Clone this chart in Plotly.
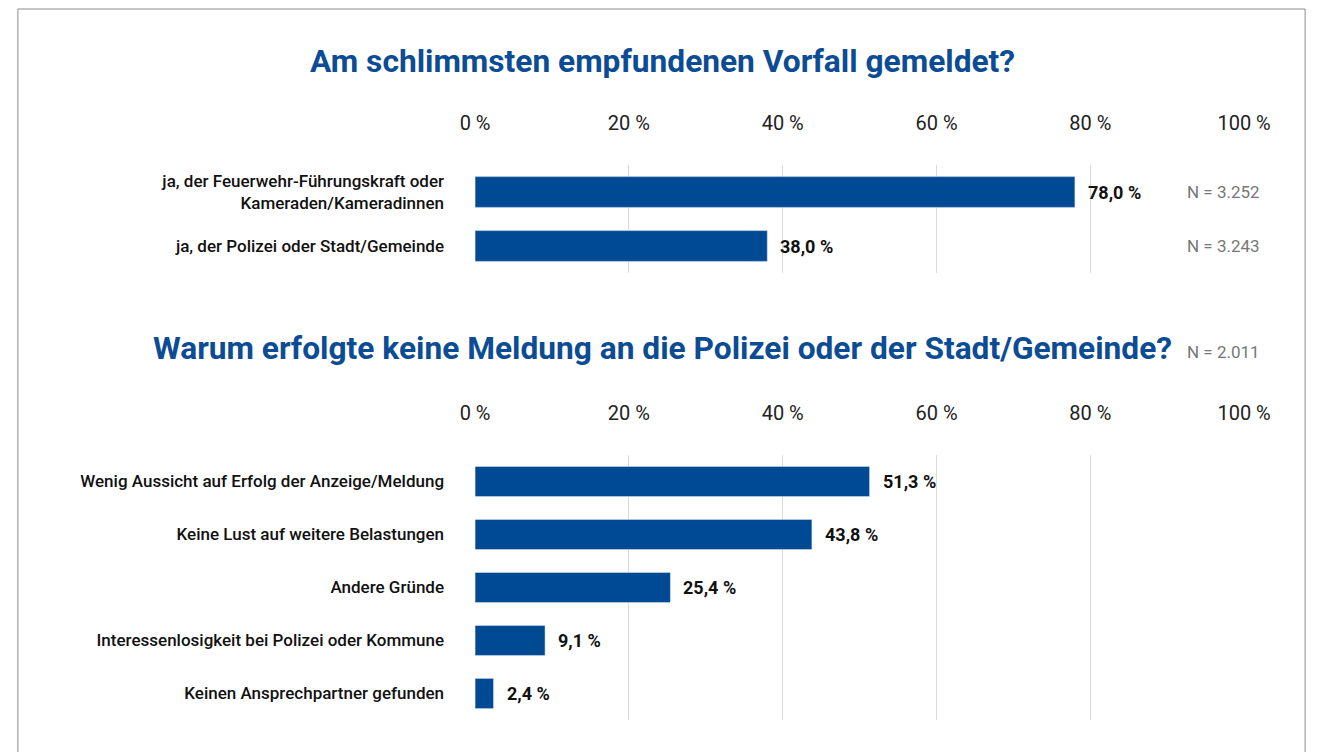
import plotly.graph_objects as go

# ---- data ----
title1 = "Am schlimmsten empfundenen Vorfall gemeldet?"
cat1 = ["ja, der Feuerwehr-Führungskraft oder<br>Kameraden/Kameradinnen",
        "ja, der Polizei oder Stadt/Gemeinde"]
val1 = [78.0, 38.0]
n1 = ["N = 3.252", "N = 3.243"]

title2 = "Warum erfolgte keine Meldung an die Polizei oder der Stadt/Gemeinde?"
n2 = "N = 2.011"
cat2 = ["Wenig Aussicht auf Erfolg der Anzeige/Meldung",
        "Keine Lust auf weitere Belastungen",
        "Andere Gründe",
        "Interessenlosigkeit bei Polizei oder Kommune",
        "Keinen Ansprechpartner gefunden"]
val2 = [51.3, 43.8, 25.4, 9.1, 2.4]

tick_vals = [0, 20, 40, 60, 80, 100]
tick_text = ["0 %", "20 %", "40 %", "60 %", "80 %", "100 %"]

# ---- style ----
W, H = 1336, 752
BLUE = "#004a93"
TITLE_BLUE = "#0b4c94"
FONT = "Roboto"
GRID = "#dadada"


def fmt(v):
    return f"{v:.1f}".replace(".", ",") + " %"


def px_x(x):
    return x / W


def px_y(y):
    return 1 - y / H


fig = go.Figure()
fig.add_trace(go.Bar(x=val1, y=cat1, orientation="h", marker_color=BLUE,
                     xaxis="x", yaxis="y", hoverinfo="skip", showlegend=False))
fig.add_trace(go.Bar(x=val2, y=cat2, orientation="h", marker_color=BLUE,
                     xaxis="x2", yaxis="y2", hoverinfo="skip", showlegend=False))

xdom = [px_x(475), px_x(1269)]
xcommon = dict(range=[0, 100], tickvals=tick_vals, ticktext=tick_text, side="top",
               showgrid=True, gridcolor=GRID, gridwidth=1, zeroline=False,
               showline=False, ticks="", ticklabelstandoff=30,
               tickfont=dict(family=FONT, size=20, color="#222222"), fixedrange=True)
ycommon = dict(autorange="reversed", showgrid=False, zeroline=False, showline=False,
               ticks="", ticklabelstandoff=30,
               tickfont=dict(family=FONT, size=17, color="#111111", weight=500),
               fixedrange=True)

fig.update_layout(
    width=W, height=H, autosize=False,
    margin=dict(l=0, r=0, t=0, b=0),
    paper_bgcolor="white", plot_bgcolor="white",
    bargap=0.43,
    xaxis=dict(domain=xdom, anchor="y", **xcommon),
    yaxis=dict(domain=[px_y(273), px_y(165)], anchor="x", **ycommon),
    xaxis2=dict(domain=xdom, anchor="y2", **xcommon),
    yaxis2=dict(domain=[px_y(720), px_y(455)], anchor="x2", **ycommon),
)

annotations = []
# titles
annotations.append(dict(text=f"<b>{title1}</b>", x=px_x(668), y=px_y(62), xref="paper", yref="paper",
                        xanchor="center", yanchor="middle", showarrow=False,
                        font=dict(family=FONT, size=31.7, color=TITLE_BLUE)))
annotations.append(dict(text=f"<b>{title2}</b>", x=px_x(669), y=px_y(348), xref="paper", yref="paper",
                        xanchor="center", yanchor="middle", showarrow=False,
                        font=dict(family=FONT, size=31.7, color=TITLE_BLUE)))
annotations.append(dict(text=n2, x=px_x(1287), y=px_y(352), xref="paper", yref="paper",
                        xanchor="right", yanchor="middle", showarrow=False,
                        font=dict(family=FONT, size=17, color="#777777")))
# value labels
for c, v in zip(cat1, val1):
    annotations.append(dict(text=f"<b>{fmt(v)}</b>", x=v, y=c, xref="x", yref="y",
                            xanchor="left", yanchor="middle", xshift=11, showarrow=False,
                            font=dict(family=FONT, size=18, color="#111111")))
for c, n in zip(cat1, n1):
    annotations.append(dict(text=n, x=px_x(1287), y=c, xref="paper", yref="y",
                            xanchor="right", yanchor="middle", showarrow=False,
                            font=dict(family=FONT, size=17, color="#777777")))
for c, v in zip(cat2, val2):
    annotations.append(dict(text=f"<b>{fmt(v)}</b>", x=v, y=c, xref="x2", yref="y2",
                            xanchor="left", yanchor="middle", xshift=11, showarrow=False,
                            font=dict(family=FONT, size=18, color="#111111")))
fig.update_layout(annotations=annotations)

# outer frame
fig.add_shape(type="rect", xref="paper", yref="paper",
              x0=px_x(3), x1=px_x(1332), y0=-0.05, y1=px_y(9),
              line=dict(color="#8c8c8c", width=1), fillcolor="rgba(0,0,0,0)", layer="above")

fig.write_html(
    "out.html",
    config={"displayModeBar": False},
    post_script="document.documentElement.style.margin='0';document.body.style.margin='0';"
                "document.documentElement.style.overflow='hidden';document.body.style.overflow='hidden';",
)
